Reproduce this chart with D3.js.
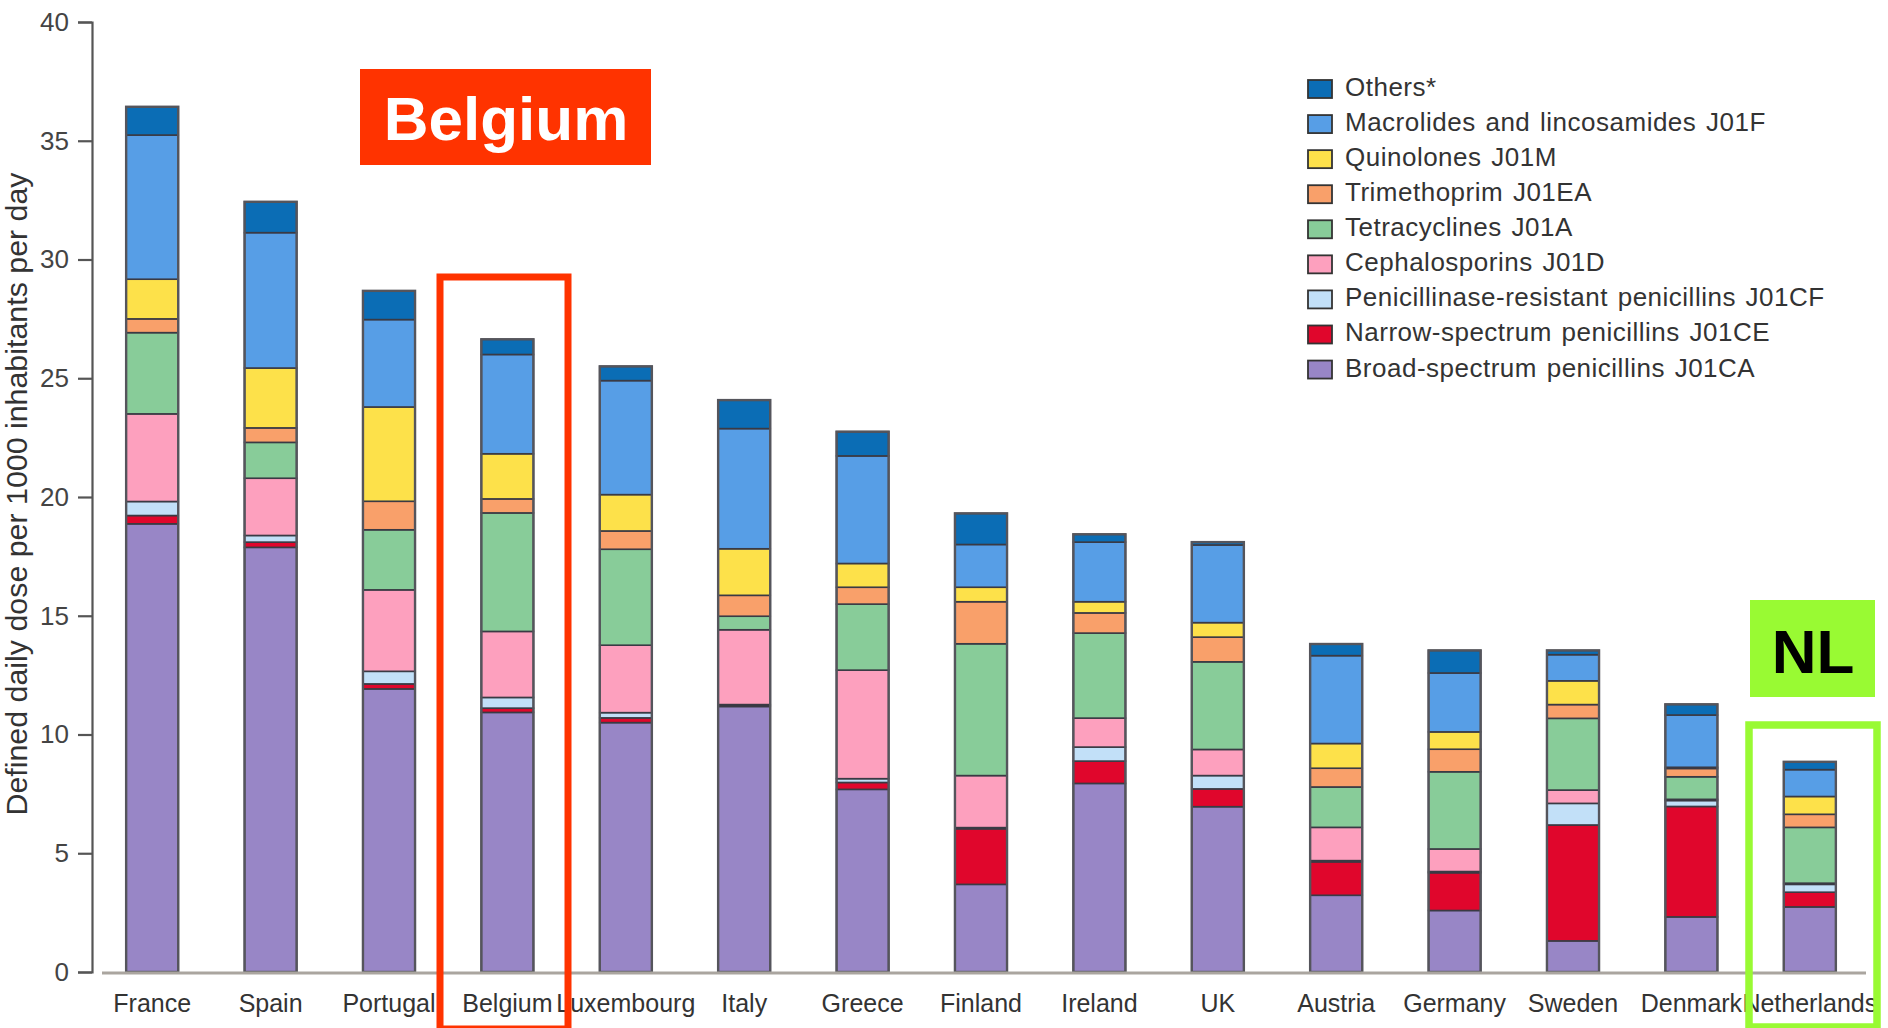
<!DOCTYPE html>
<html>
<head>
<meta charset="utf-8">
<script src="https://cdn.jsdelivr.net/npm/d3@7"></script>
<style>
  html, body { margin: 0; padding: 0; background: #fff; }
  svg { display: block; }
  text { font-family: "Liberation Sans", Arial, sans-serif; }
</style>
</head>
<body>
<svg id="chart" width="1888" height="1028"></svg>
<script>
const countries = ["France","Spain","Portugal","Belgium","Luxembourg","Italy","Greece","Finland","Ireland","UK","Austria","Germany","Sweden","Denmark","Netherlands"];

const broad  = [18.87,17.88,11.92,10.93,10.50,11.18,7.69,3.69,7.94,6.96,3.23,2.59,1.31,2.32,2.74];
const narrow = [0.35,0.22,0.21,0.18,0.20,0.05,0.29,2.34,0.94,0.75,1.41,1.59,4.88,4.65,0.62];
const penres = [0.59,0.28,0.53,0.45,0.22,0.03,0.16,0.05,0.59,0.56,0.05,0.05,0.91,0.25,0.33];
const ceph   = [3.69,2.41,3.43,2.78,2.84,3.15,4.57,2.19,1.22,1.10,1.40,0.95,0.56,0.05,0.05];
const tetra  = [3.42,1.51,2.53,4.99,4.04,0.57,2.78,5.55,3.58,3.69,1.70,3.25,3.02,0.95,2.35];
const trim   = [0.58,0.61,1.20,0.59,0.77,0.88,0.71,1.77,0.85,1.04,0.79,0.95,0.58,0.35,0.55];
const quin   = [1.67,2.52,3.97,1.90,1.53,1.96,1.00,0.61,0.47,0.61,1.04,0.73,1.00,0.05,0.75];
const macro  = [6.07,5.70,3.68,4.18,4.80,5.06,4.53,1.80,2.51,3.27,3.70,2.48,1.10,2.20,1.13];
const others = [1.19,1.30,1.21,0.64,0.60,1.20,1.02,1.31,0.33,0.12,0.49,0.95,0.18,0.45,0.33];

// stacking order bottom -> top
const seriesKeys = ["broad","narrow","penres","ceph","tetra","trim","quin","macro","others"];
const seriesValues = {broad, narrow, penres, ceph, tetra, trim, quin, macro, others};
const seriesLabels = {
  others: "Others*",
  macro: "Macrolides and lincosamides J01F",
  quin: "Quinolones J01M",
  trim: "Trimethoprim J01EA",
  tetra: "Tetracyclines J01A",
  ceph: "Cephalosporins J01D",
  penres: "Penicillinase-resistant penicillins J01CF",
  narrow: "Narrow-spectrum penicillins J01CE",
  broad: "Broad-spectrum penicillins J01CA"
};
const legendOrder = ["others","macro","quin","trim","tetra","ceph","penres","narrow","broad"];
const seriesColors = {
  others: "#0b6db5",
  macro: "#579ee6",
  quin: "#fde14a",
  trim: "#f9a06a",
  tetra: "#88cc99",
  ceph: "#fda0be",
  penres: "#c2e0f8",
  narrow: "#e0062c",
  broad: "#9886c6"
};
const yTicks = [0,5,10,15,20,25,30,35,40];

const svg = d3.select("#chart");

const rows = countries.map((c, i) => {
  const r = {country: c};
  seriesKeys.forEach(k => r[k] = seriesValues[k][i]);
  return r;
});

const x = d3.scaleBand().domain(countries).range([93, 1869]).paddingInner(0.56).paddingOuter(0.28);
const y = d3.scaleLinear().domain([0, 40]).range([972, 22]);

const stacked = d3.stack().keys(seriesKeys)(rows);

// bars
const gBars = svg.append("g");
stacked.forEach(layer => {
  gBars.append("g")
    .attr("fill", seriesColors[layer.key])
    .selectAll("rect")
    .data(layer)
    .join("rect")
    .attr("x", d => x(d.data.country))
    .attr("width", x.bandwidth())
    .attr("y", d => y(d[1]))
    .attr("height", d => Math.max(0, y(d[0]) - y(d[1])))
    .attr("stroke", "#3a3a44")
    .attr("stroke-width", 1.6);
});
// outer outline of each bar
const totals = rows.map(r => seriesKeys.reduce((s, k) => s + r[k], 0));
gBars.append("g").selectAll("rect")
  .data(rows)
  .join("rect")
  .attr("x", d => x(d.country))
  .attr("width", x.bandwidth())
  .attr("y", (d, i) => y(totals[i]))
  .attr("height", (d, i) => y(0) - y(totals[i]))
  .attr("fill", "none")
  .attr("stroke", "#55555c")
  .attr("stroke-width", 2.4);

// x baseline
svg.append("line")
  .attr("x1", 102).attr("x2", 1866)
  .attr("y1", y(0) + 1).attr("y2", y(0) + 1)
  .attr("stroke", "#aaa59f").attr("stroke-width", 3);

// y axis
const yAxis = d3.axisLeft(y).tickValues(yTicks).tickSize(14).tickPadding(9).tickFormat(d3.format("d"));
const gy = svg.append("g").attr("transform", "translate(92,0)").call(yAxis);
gy.select(".domain").attr("stroke", "#555").attr("stroke-width", 2.2);
gy.selectAll(".tick line").attr("stroke", "#555").attr("stroke-width", 2.2);
gy.selectAll(".tick text")
  .attr("fill", "#444")
  .style("font-size", "26px")
  .style("font-family", "'Liberation Sans', Arial, sans-serif");

// x labels
const xAxis = d3.axisBottom(x).tickSize(0).tickPadding(0);
const gx = svg.append("g").attr("transform", "translate(0," + y(0) + ")").call(xAxis);
gx.select(".domain").remove();
gx.selectAll(".tick text")
  .attr("dy", null)
  .attr("y", 40)
  .attr("fill", "#333")
  .style("font-size", "25px")
  .style("font-family", "'Liberation Sans', Arial, sans-serif");

// y title
svg.append("text")
  .attr("transform", "translate(27,494) rotate(-90)")
  .attr("text-anchor", "middle")
  .attr("fill", "#333")
  .style("font-size", "30px")
  .attr("textLength", 643)
  .attr("lengthAdjust", "spacingAndGlyphs")
  .text("Defined daily dose per 1000 inhabitants per day");

// legend
const gLeg = svg.append("g").attr("transform", "translate(1308,89)");
legendOrder.forEach((k, i) => {
  const g = gLeg.append("g").attr("transform", "translate(0," + (i * 35.07) + ")");
  g.append("rect")
    .attr("x", 0).attr("y", -9).attr("width", 24).attr("height", 18)
    .attr("fill", seriesColors[k]).attr("stroke", "#333").attr("stroke-width", 1.8);
  g.append("text")
    .attr("x", 37).attr("y", 7)
    .attr("fill", "#333")
    .style("font-size", "26px")
    .style("letter-spacing", "0.5px")
    .style("word-spacing", "2px")
    .text(seriesLabels[k]);
});

// Belgium annotation
svg.append("rect")
  .attr("x", 440).attr("y", 277).attr("width", 128).attr("height", 752)
  .attr("fill", "none").attr("stroke", "#ff3300").attr("stroke-width", 7);
svg.append("rect")
  .attr("x", 360).attr("y", 69).attr("width", 291).attr("height", 96)
  .attr("fill", "#ff3300");
svg.append("text")
  .attr("x", 506).attr("y", 140)
  .attr("text-anchor", "middle")
  .attr("fill", "#fff")
  .style("font-size", "62px").style("font-weight", "bold")
  .style("font-family", "'Liberation Sans', Arial, sans-serif")
  .text("Belgium");

// NL annotation
svg.append("rect")
  .attr("x", 1749).attr("y", 725).attr("width", 128).attr("height", 302)
  .attr("fill", "none").attr("stroke", "#99fa33").attr("stroke-width", 7.5);
svg.append("rect")
  .attr("x", 1750).attr("y", 600).attr("width", 125).attr("height", 97)
  .attr("fill", "#99fa33");
svg.append("text")
  .attr("x", 1813).attr("y", 673)
  .attr("text-anchor", "middle")
  .attr("fill", "#000")
  .style("font-size", "62px").style("font-weight", "bold")
  .style("font-family", "'Liberation Sans', Arial, sans-serif")
  .text("NL");
</script>
</body>
</html>
